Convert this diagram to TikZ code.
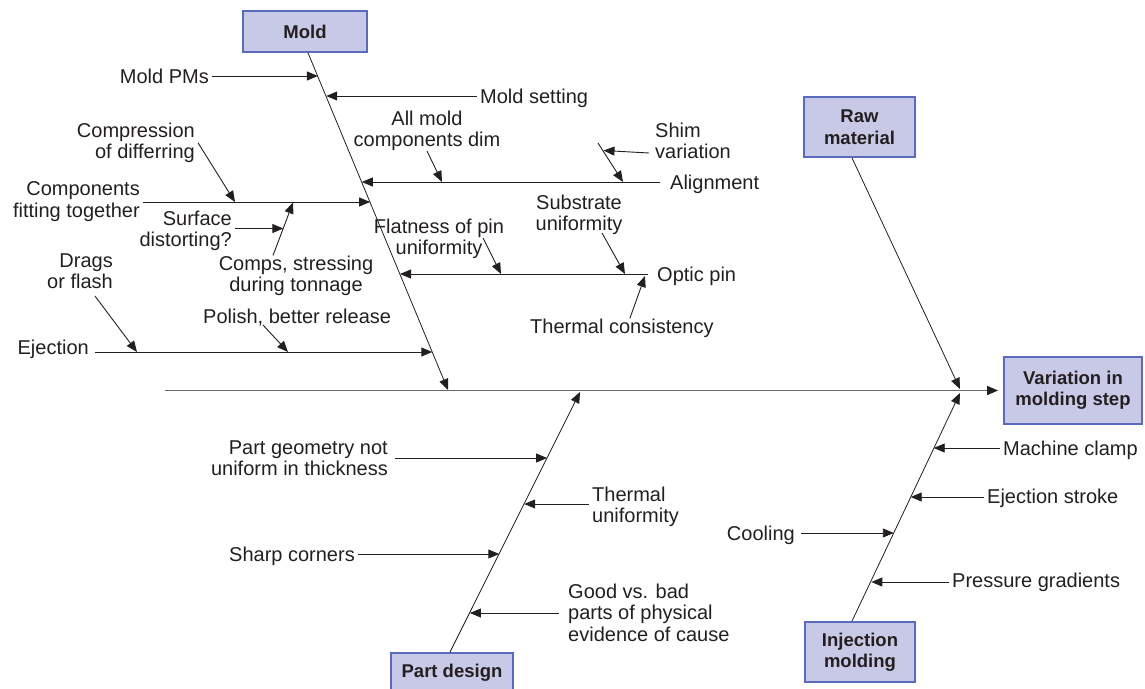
\documentclass[tikz,border=0pt]{standalone}
\usepackage{fontspec}
\setmainfont{Liberation Sans}
\usetikzlibrary{arrows.meta}
\definecolor{boxfill}{HTML}{C8C9E6}
\definecolor{boxline}{HTML}{5A6BBE}
\definecolor{spinegray}{HTML}{6A6A6A}
\definecolor{ink}{HTML}{231F20}
\begin{document}
\begin{tikzpicture}[x=1pt,y=-1pt,
  lbl/.style={font=\fontsize{20}{21.5}\selectfont, inner xsep=3pt, inner ysep=0pt, text=ink},
  catbox/.style={draw=boxline, fill=boxfill, line width=1.8pt, font=\bfseries\fontsize{18.5}{21.5}\selectfont, align=center, inner sep=0pt, text=ink},
  arr/.style={-{Triangle[length=11pt,width=9pt]}, line width=0.9pt, draw=ink},
  bone/.style={arr, line width=0.8pt}]
\useasboundingbox (0,0) rectangle (1145,688);

% category boxes
\node[catbox, minimum width=124pt, minimum height=41pt] (mold) at (305,31.5) {Mold};
\node[catbox, minimum width=111pt, minimum height=60pt] (raw) at (859.5,127) {Raw\\material};
\node[catbox, minimum width=138pt, minimum height=67pt] (var) at (1073,390.5) {Variation in\\molding step};
\node[catbox, minimum width=110pt, minimum height=60pt] (inj) at (860,652) {Injection\\molding};
\node[catbox, minimum width=122pt, minimum height=40pt] (part) at (452,673) {Part design};

% spine
\coordinate (spineL) at (165,390.5);
\draw[-{Triangle[length=11pt,width=9pt,color=ink]}, line width=1.4pt, draw=spinegray] (spineL) -- ([xshift=-5pt]var.west);

% main bones
\coordinate (moldEnd) at (448,390);
\coordinate (rawEnd) at (960,389);
\coordinate (injEnd) at (960,393);
\coordinate (partEnd) at (580,392);
\draw[bone] ([xshift=3pt]mold.south) -- (moldEnd);
\draw[bone] ([xshift=-7.5pt]raw.south) -- (rawEnd);
\draw[bone] ([xshift=-8pt]inj.north) -- (injEnd);
\draw[bone] ([xshift=-2pt]part.north) -- (partEnd);

% ---------- Mold causes ----------
\coordinate (tPMs) at (317.9,76);
\coordinate (tSet) at (326.2,96);
\coordinate (tAlign) at (361.8,182);
\coordinate (tComp) at (370.1,202);
\coordinate (tOptic) at (400,274);
\coordinate (tEject) at (432.3,352);

\node[lbl, anchor=base east] (pms) at (212,83) {Mold PMs};
\draw[arr] (pms.east |- tPMs) -- (tPMs);

\node[lbl, anchor=base west] (set) at (477,103) {Mold setting};
\draw[arr] (set.west |- tSet) -- (tSet);

\node[lbl, anchor=base west] (align) at (667,189) {Alignment};
\draw[arr, shorten <=7pt] (align.west |- tAlign) -- (tAlign);

\node[lbl, anchor=north, align=center] (allmold) at (427,110.5) {All mold\\components dim};
\coordinate (tAll) at (442,182);
\draw[arr] (allmold.south) -- (tAll);

\node[lbl, anchor=north west, align=left] (shim) at (652,122.5) {Shim\\variation};
\coordinate (sShimB) at (598,143);
\coordinate (tShimB) at (623,182);
\draw[arr] (sShimB) -- (tShimB);
\coordinate (sShim) at (649,153);
\coordinate (tShim) at (603.5,150.5);
\draw[arr] (sShim) -- (tShim);

\node[lbl, anchor=north east, align=right] (comp) at (143,181.5) {Components\\fitting together};
\draw[arr] (comp.east |- tComp) -- (tComp);

\node[lbl, anchor=north east, align=right] (compress) at (198,122.5) {Compression\\of differring};
\coordinate (tCompress) at (235,202);
\draw[arr] (compress.east) -- (tCompress);

\node[lbl, anchor=north, align=center] (comps) at (296,255.5) {Comps, stressing\\during tonnage};
\coordinate (tComps) at (293,202.5);
\draw[arr] ([xshift=-23pt]comps.north) -- (tComps);

\node[lbl, anchor=north east, align=right] (surface) at (235,210.5) {Surface\\distorting?};
\coordinate (tSurf) at (283.3,228.5);
\draw[arr] (surface.east |- tSurf) -- (tSurf);

\node[lbl, anchor=base west] (optic) at (654,281) {Optic pin};
\draw[arr, shorten <=6pt] (optic.west |- tOptic) -- (tOptic);

\node[lbl, anchor=north, align=center] (flat) at (439,218.5) {Flatness of pin\\uniformity};
\coordinate (sFlat) at (483,238);
\coordinate (tFlat) at (501,274);
\draw[arr] (sFlat) -- (tFlat);

\node[lbl, anchor=north, align=center] (subs) at (579,194.5) {Substrate\\uniformity};
\coordinate (sSubs) at (602,233);
\coordinate (tSubs) at (625,274);
\draw[arr] (sSubs) -- (tSubs);

\node[lbl, anchor=base west] (thermc) at (527,333) {Thermal consistency};
\coordinate (tTherm) at (645,276);
\draw[arr] ([xshift=8pt]thermc.north) -- (tTherm);

\node[lbl, anchor=base east] (eject) at (92,354) {Ejection};
\draw[arr, shorten <=3pt] (eject.east |- tEject) -- (tEject);

\node[lbl, anchor=north east, align=right] (drags) at (116,253.5) {Drags\\or flash};
\coordinate (sDrags) at (95,296);
\coordinate (tDrags) at (137,352);
\draw[arr] (sDrags) -- (tDrags);

\node[lbl, anchor=base west] (polish) at (200,323) {Polish, better release};
\coordinate (sPolish) at (263,325);
\coordinate (tPolish) at (288,352);
\draw[arr] (sPolish) -- (tPolish);

% ---------- Part design causes ----------
\coordinate (tGeom) at (547.1,458);
\coordinate (tThermU) at (524.2,504);
\coordinate (tSharp) at (499.3,554);
\coordinate (tGood) at (469.9,613);

\node[lbl, anchor=north east, align=right] (geom) at (391,440.5) {Part geometry not\\uniform in thickness};
\draw[arr, shorten <=4pt] (geom.east |- tGeom) -- (tGeom);

\node[lbl, anchor=north west, align=left] (thermu) at (589,486.5) {Thermal\\uniformity};
\draw[arr] (thermu.west |- tThermU) -- (tThermU);

\node[lbl, anchor=base east] (sharp) at (358,561) {Sharp corners};
\draw[arr] (sharp.east |- tSharp) -- (tSharp);

\node[lbl, anchor=north west, align=left] (good) at (565,583.5) {Good vs. bad\\parts of physical\\evidence of cause};
\draw[arr, shorten <=6pt] (good.west |- tGood) -- (tGood);

% ---------- Injection molding causes ----------
\coordinate (tClamp) at (933.7,448);
\coordinate (tStroke) at (910.7,497);
\coordinate (tCool) at (893.8,533);
\coordinate (tPress) at (871.3,582);

\node[lbl, anchor=base west] (clamp) at (1000,455) {Machine clamp};
\draw[arr] (clamp.west |- tClamp) -- (tClamp);

\node[lbl, anchor=base west] (stroke) at (984,503) {Ejection stroke};
\draw[arr] (stroke.west |- tStroke) -- (tStroke);

\node[lbl, anchor=base east] (cooling) at (798,540) {Cooling};
\draw[arr, shorten <=3pt] (cooling.east |- tCool) -- (tCool);

\node[lbl, anchor=base west] (press) at (949,587) {Pressure gradients};
\draw[arr] (press.west |- tPress) -- (tPress);
\end{tikzpicture}
\end{document}
